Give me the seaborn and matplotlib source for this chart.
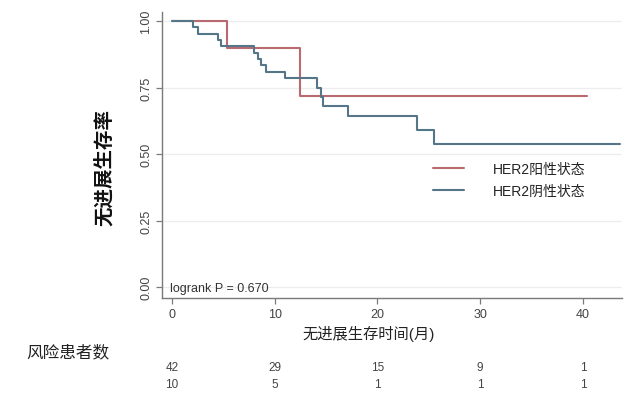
import pandas as pd
import matplotlib
matplotlib.use('Agg')
import matplotlib.pyplot as plt
import matplotlib.transforms as mtransforms
import seaborn as sns

# 生存曲线数据
pos_time = [0, 5.4, 12.5, 40.4]
pos_surv = [1.0, 0.90, 0.72, 0.72]
neg_time = [0, 2.0, 2.5, 4.5, 4.8, 8.0, 8.4, 8.7, 9.2, 11.0, 14.1, 14.5, 14.7,
            17.1, 23.8, 25.5, 43.6]
neg_surv = [1.0, 0.976, 0.952, 0.929, 0.905, 0.881, 0.857, 0.833, 0.810, 0.786,
            0.75, 0.715, 0.679, 0.642, 0.59, 0.536, 0.536]
groups = ['HER2阳性状态', 'HER2阴性状态']
colors = ['#b86a70', '#557689']

risk_ticks = [0, 10, 20, 30, 40]
risk_pos = [42, 29, 15, 9, 1]
risk_neg = [10, 5, 1, 1, 1]

df = pd.concat([
    pd.DataFrame({'time': pos_time, 'surv': pos_surv, 'group': groups[0]}),
    pd.DataFrame({'time': neg_time, 'surv': neg_surv, 'group': groups[1]}),
])

sns.set_style('white')
plt.rcParams['font.family'] = ['Liberation Sans', 'Noto Sans CJK SC', 'DejaVu Sans']

fig = plt.figure(figsize=(6.28, 4.02), dpi=100)
ax = fig.add_axes([162 / 628, 1 - 299 / 402, 460 / 628, 286 / 402])

sns.lineplot(data=df, x='time', y='surv', hue='group', hue_order=groups,
             palette=colors, drawstyle='steps-post', estimator=None,
             linewidth=1.5, ax=ax)

ax.set_xlim(-0.97, 43.8)
ax.set_ylim(-0.041, 1.034)
ax.set_xticks(risk_ticks)
ax.set_yticks([0, 0.25, 0.5, 0.75, 1.0])
ax.set_yticklabels(['0.00', '0.25', '0.50', '0.75', '1.00'], rotation=90, va='center')
ax.yaxis.grid(True, color='#ededed', linewidth=0.9)
ax.xaxis.grid(False)
for s in ['top', 'right']:
    ax.spines[s].set_visible(False)
for s in ['left', 'bottom']:
    ax.spines[s].set_color('#7a7a7a')
    ax.spines[s].set_linewidth(1.0)
ax.tick_params(axis='both', bottom=True, left=True, length=4, width=0.9,
               color='#7a7a7a', labelsize=9, labelcolor='#444444', pad=3)

ax.set_ylabel('无进展生存率', fontsize=14, fontweight='bold', color='#111111')
ax.yaxis.set_label_coords(-0.105, 0.46)
ax.set_xlabel('无进展生存时间(月)', fontsize=11, color='#222222')
ax.xaxis.set_label_coords(0.45, -0.095)

ax.text(0.5 / 43.8 + 0.005, 0.035, 'logrank P = 0.670', transform=ax.transAxes,
        fontsize=9, color='#333333', va='center', ha='left')

leg = ax.legend(loc='upper left', bbox_to_anchor=(433 / 628, 1 - 163 / 402),
                bbox_transform=fig.transFigure, frameon=False, fontsize=10,
                handlelength=2.2, handletextpad=2.1, labelspacing=0.55,
                borderpad=0, borderaxespad=0, title=None)
for t in leg.get_texts():
    t.set_color('#222222')

# 风险表
fig.text(26 / 628, 1 - 352 / 402, '风险患者数', fontsize=12, color='#222222',
         va='center', ha='left')
trans = mtransforms.blended_transform_factory(ax.transData, fig.transFigure)
for x, a, b in zip(risk_ticks, risk_pos, risk_neg):
    ax.text(x, 1 - 368 / 402, str(a), transform=trans, ha='center', va='center',
            fontsize=8.5, color='#444444')
    ax.text(x, 1 - 385 / 402, str(b), transform=trans, ha='center', va='center',
            fontsize=8.5, color='#444444')

fig.savefig('out.png', dpi=100)
